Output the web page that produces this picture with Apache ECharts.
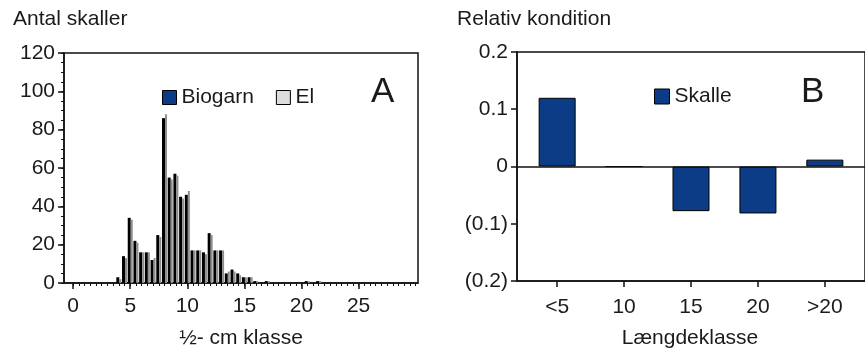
<!DOCTYPE html>
<html>
<head>
<meta charset="utf-8">
<script src="https://cdn.jsdelivr.net/npm/echarts@6/dist/echarts.min.js"></script>
<style>
  html, body { margin: 0; padding: 0; background: #fff; }
  #chart { width: 865px; height: 349px; }
</style>
</head>
<body>
<div id="chart"></div>
<script>
// Panel A: number of roach per half-cm length class, by gear
const lengthClasses = [4, 4.5, 5, 5.5, 6, 6.5, 7, 7.5, 8, 8.5, 9, 9.5, 10, 10.5, 11, 11.5, 12, 12.5, 13, 13.5, 14, 14.5, 15, 15.5, 16, 17, 20.5, 21.5];
const biogarnCounts = [3, 14, 34, 22, 16, 16, 12, 25, 86, 55, 57, 45, 46, 17, 17, 16, 26, 17, 17, 5, 7, 5, 3, 3, 1, 1, 1, 1];
const elCounts      = [2, 13, 33, 21, 16, 16, 13, 24, 88, 54, 56, 44, 48, 17, 17, 15, 25, 17, 17, 6, 6, 4, 3, 3, 1, 1, 1, 1];
const classTicks = [0, 5, 10, 15, 20, 25];

// Panel B: relative condition of roach per length group
const lengthGroups = ['<5', '10', '15', '20', '>20'];
const skalleCondition = [0.12, 0, -0.078, -0.082, 0.012];

const FONT = 'Liberation Sans, Arial, sans-serif';
const INK = '#1a1a1a';
const LINE = '#111';
const NAVY = '#0c3c86';

// minor tick positions: every half cm along x, every 5 fish along y
const halfCmTicks = [];
for (let v = 0; v <= 30; v += 0.5) halfCmTicks.push(v);
const countMinorTicks = [];
for (let v = 0; v <= 120; v += 5) countMinorTicks.push(v);

const chart = echarts.init(document.getElementById('chart'), null, { renderer: 'canvas' });

const lineStyle = { color: LINE, width: 1.5 };
const thinLine = { color: LINE, width: 1 };
const labelStyle = { fontFamily: FONT, fontSize: 21, color: INK };

function conditionLabel(v) {
  if (Math.abs(v) < 1e-9) return '0';
  return v < 0 ? '(' + (-v).toFixed(1) + ')' : v.toFixed(1);
}

chart.setOption({
  animation: false,
  backgroundColor: '#fff',
  grid: [
    { left: 64, top: 53, width: 354, height: 230, show: true, borderColor: LINE, borderWidth: 1.5 },
    { left: 517, top: 52, width: 351, height: 229, show: true, borderColor: LINE, borderWidth: 1.5 }
  ],
  xAxis: [
    {
      gridIndex: 0, type: 'value', min: -0.8, max: 30.2, position: 'bottom',
      axisLine: { show: true, onZero: false, lineStyle },
      axisTick: { show: true, customValues: classTicks, length: 6, lineStyle },
      axisLabel: Object.assign({ customValues: classTicks, margin: 13 }, labelStyle),
      splitLine: { show: false }
    },
    {
      gridIndex: 0, type: 'value', min: -0.8, max: 30.2, position: 'bottom',
      axisLine: { show: false, onZero: false },
      axisTick: { show: true, customValues: halfCmTicks, length: 3, lineStyle: thinLine },
      axisLabel: { show: false },
      splitLine: { show: false }
    },
    {
      gridIndex: 1, type: 'value', min: 0.4, max: 5.6, position: 'bottom',
      axisLine: { show: true, onZero: false, lineStyle },
      axisTick: { show: true, customValues: [1, 2, 3, 4, 5], length: 6, lineStyle },
      axisLabel: Object.assign({
        customValues: [1, 2, 3, 4, 5], margin: 16,
        formatter: v => lengthGroups[Math.round(v) - 1]
      }, labelStyle),
      splitLine: { show: false }
    }
  ],
  yAxis: [
    {
      gridIndex: 0, type: 'value', min: 0, max: 120, interval: 20, position: 'left',
      axisLine: { show: true, onZero: false, lineStyle },
      axisTick: { show: true, length: 6, lineStyle },
      axisLabel: Object.assign({ margin: 9 }, labelStyle),
      splitLine: { show: false }
    },
    {
      gridIndex: 0, type: 'value', min: 0, max: 120, position: 'left',
      axisLine: { show: false, onZero: false },
      axisTick: { show: true, customValues: countMinorTicks, length: 3, lineStyle: thinLine },
      axisLabel: { show: false },
      splitLine: { show: false }
    },
    {
      gridIndex: 1, type: 'value', min: -0.2, max: 0.2, interval: 0.1, position: 'left',
      axisLine: { show: true, onZero: false, lineStyle },
      axisTick: { show: true, length: 6, lineStyle },
      axisLabel: Object.assign({ margin: 9, formatter: conditionLabel }, labelStyle),
      splitLine: { show: false }
    }
  ],
  legend: [
    {
      left: 157, top: 82, itemWidth: 14, itemHeight: 14, itemGap: 22, icon: 'rect',
      textStyle: { fontFamily: FONT, fontSize: 21, color: INK },
      data: [
        { name: 'Biogarn', itemStyle: { color: NAVY, borderColor: '#000', borderWidth: 1 } },
        { name: 'El', itemStyle: { color: '#dcdcdc', borderColor: '#000', borderWidth: 1 } }
      ]
    },
    {
      left: 649, top: 81, itemWidth: 15, itemHeight: 15, icon: 'rect',
      textStyle: { fontFamily: FONT, fontSize: 21, color: INK },
      data: [
        { name: 'Skalle', itemStyle: { color: NAVY, borderColor: '#000', borderWidth: 1 } }
      ]
    }
  ],
  series: [
    {
      name: 'Biogarn', type: 'bar', xAxisIndex: 0, yAxisIndex: 0,
      barWidth: 3, barGap: '0%',
      itemStyle: { color: '#000000' },
      data: lengthClasses.map((c, i) => [c, biogarnCounts[i]])
    },
    {
      name: 'El', type: 'bar', xAxisIndex: 0, yAxisIndex: 0,
      barWidth: 2, barGap: '0%',
      itemStyle: { color: '#8e8e8e' },
      data: lengthClasses.map((c, i) => [c, elCounts[i]])
    },
    {
      name: 'Skalle', type: 'bar', xAxisIndex: 2, yAxisIndex: 2,
      barWidth: 37,
      itemStyle: { color: NAVY, borderColor: '#000', borderWidth: 1 },
      data: lengthGroups.map((g, i) => [i + 1, skalleCondition[i]]),
      markLine: {
        silent: true, symbol: 'none', label: { show: false },
        lineStyle: { color: LINE, width: 1.5, type: 'solid' },
        data: [{ yAxis: 0 }]
      }
    }
  ],
  graphic: [
    { type: 'text', left: 13, top: 9, style: { text: 'Antal skaller', font: '21px ' + FONT, fill: INK } },
    { type: 'text', left: 457, top: 9, style: { text: 'Relativ kondition', font: '21px ' + FONT, fill: INK } },
    { type: 'text', left: 371, top: 75, style: { text: 'A', font: '35px ' + FONT, fill: INK } },
    { type: 'text', left: 801, top: 75, style: { text: 'B', font: '35px ' + FONT, fill: INK } },
    { type: 'text', x: 241, y: 338, style: { text: '½- cm klasse', font: '21px ' + FONT, fill: INK, align: 'center', verticalAlign: 'middle' } },
    { type: 'text', x: 690, y: 338, style: { text: 'Længdeklasse', font: '21px ' + FONT, fill: INK, align: 'center', verticalAlign: 'middle' } }
  ]
});
</script>
</body>
</html>
